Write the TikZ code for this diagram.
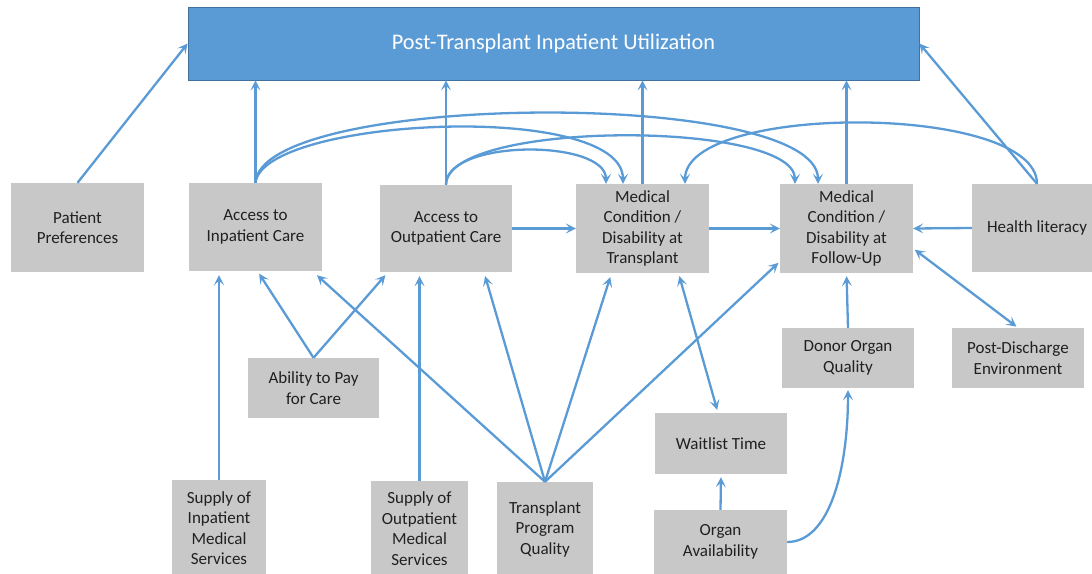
\documentclass[tikz,border=0pt]{standalone}
\usepackage{fontspec}
\setmainfont{Carlito}
\usetikzlibrary{arrows.meta,calc}
\definecolor{linkblue}{HTML}{5B9BD5}
\definecolor{titleedge}{HTML}{41719C}
\definecolor{boxgray}{HTML}{C8C8C8}
\definecolor{textgray}{HTML}{202020}
\begin{document}
\begin{tikzpicture}[x=1pt,y=-1pt,
  >={Stealth[length=10pt,width=10pt,inset=4.5pt]},
  factor/.style={fill=boxgray, inner sep=0pt, align=center, text=textgray,
    font=\fontsize{17}{20.5}\selectfont},
  arr/.style={draw=linkblue, line width=2.3pt, ->},
  darr/.style={draw=linkblue, line width=2.3pt, <->}]
\useasboundingbox (0,0) rectangle (1092,573);

% outcome
\node[fill=linkblue, draw=titleedge, line width=0.8pt, minimum width=731pt,
  minimum height=73pt, inner sep=0pt, text=white,
  font=\fontsize{22.3}{26}\selectfont] (top) at (553.5,43.5)
  {Post-Transplant Inpatient Utilization};

% factors
\node[factor, minimum width=133pt, minimum height=89pt] (pp)  at (77.5,227.5) {Patient\\Preferences};
\node[factor, minimum width=133pt, minimum height=88pt] (ain) at (255.5,227) {Access to\\Inpatient Care};
\node[factor, minimum width=132pt, minimum height=87pt] (aout) at (446,228.5) {Access to\\Outpatient Care};
\node[factor, minimum width=133pt, minimum height=89pt] (mct) at (642.5,228.5) {Medical\\Condition /\\Disability at\\Transplant};
\node[factor, minimum width=133pt, minimum height=89pt] (mcf) at (846.5,228.5) {Medical\\Condition /\\Disability at\\Follow-Up};
\node[factor, minimum width=130pt, minimum height=88pt] (hl)  at (1037,228) {Health literacy};
\node[factor, minimum width=131pt, minimum height=60pt] (pay) at (313.5,388) {Ability to Pay\\for Care};
\node[factor, minimum width=132pt, minimum height=60pt] (donor) at (848,358) {Donor Organ\\Quality};
\node[factor, minimum width=132pt, minimum height=60pt] (post) at (1018,358) {Post-Discharge\\Environment};
\node[factor, minimum width=132pt, minimum height=61pt] (wait) at (721,443.5) {Waitlist Time};
\node[factor, minimum width=94pt, minimum height=96pt] (sin) at (219,528) {Supply of\\Inpatient\\Medical\\Services};
\node[factor, minimum width=97pt, minimum height=95pt] (sout) at (419.5,528.5) {Supply of\\Outpatient\\Medical\\Services};
\node[factor, minimum width=96pt, minimum height=94pt] (tpq) at (545,529) {Transplant\\Program\\Quality};
\node[factor, minimum width=133pt, minimum height=64pt] (oa) at (720.5,542) {Organ\\Availability};

% links to the outcome
\draw[arr] (pp.north) -- (top.west);
\draw[arr] (ain.north) -- (ain.north |- top.south);
\draw[arr] (aout.north) -- (aout.north |- top.south);
\draw[arr] (mct.north) -- (mct.north |- top.south);
\draw[arr] (mcf.north) -- (mcf.north |- top.south);
\draw[arr] (hl.north) -- (top.east);

% arcs over the middle row
\draw[arr] (ain.north) .. controls ($(ain.north)+(7,-65)$) and ($(mct.north)+(-19.5,-84)$) .. ($(mct.north)+(-19.5,0)$);
\draw[arr] (ain.north) .. controls ($(ain.north)+(5,-91)$) and ($(mcf.north)+(-28.5,-96)$) .. ($(mcf.north)+(-28.5,0)$);
\draw[arr] (aout.north) .. controls ($(aout.north)+(0,-46)$) and ($(mct.north)+(-36.5,-45)$) .. ($(mct.north)+(-36.5,0)$);
\draw[arr] (aout.north) .. controls ($(aout.north)+(0,-65)$) and ($(mcf.north)+(-51.5,-64)$) .. ($(mcf.north)+(-51.5,0)$);
\draw[arr] (hl.north) .. controls ($(hl.north)+(0,-81)$) and ($(mct.north)+(42.5,-81)$) .. ($(mct.north)+(42.5,0)$);

% middle row
\draw[arr] (aout.east) -- (mct.west);
\draw[arr] (mct.east) -- (mcf.west);
\draw[arr] (hl.west) -- (mcf.east);

% lower factors
\draw[arr, shorten >=4pt] (sin.north) -- (sin.north |- ain.south);
\draw[arr, shorten >=4pt] (sout.north) -- (sout.north |- aout.south);
\draw[arr, shorten >=3pt] (pay.north) -- ($(ain.south)+(2,0)$);
\draw[arr, shorten >=4pt] (pay.north) -- ($(aout.south)+(-58,0)$);
\draw[arr, shorten >=6pt] (tpq.north) -- ($(ain.south)+(57,0)$);
\draw[arr, shorten >=4pt] (tpq.north) -- ($(aout.south)+(38,0)$);
\draw[arr, shorten >=4pt] (tpq.north) -- ($(mct.south)+(-31,0)$);
\draw[arr, shorten >=2pt] (tpq.north) -- ($(mcf.west)+(0,33)$);
\draw[darr, shorten >=3pt, shorten <=3pt] ($(mct.south)+(36,0)$) -- ($(wait.north)+(-3,0)$);
\draw[arr, shorten >=3pt] (oa.north) -- (wait.south);
\draw[arr, shorten >=3pt] (donor.north) -- (mcf.south);
\draw[darr, shorten >=2pt, shorten <=2pt] (post.north) -- ($(mcf.east)+(0,20)$);
\draw[arr, shorten >=2pt] (oa.east) .. controls ($(oa.east)+(43,0)$) and ($(donor.south)+(0,80)$) .. (donor.south);
\end{tikzpicture}
\end{document}
